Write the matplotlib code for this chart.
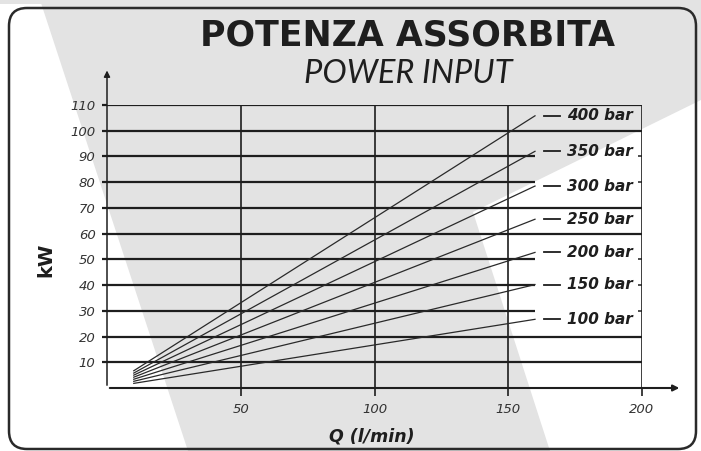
import matplotlib.pyplot as plt
import numpy as np
from matplotlib.patches import Polygon, FancyBboxPatch

# DATA
pressures = ["100 bar", "150 bar", "200 bar", "250 bar", "300 bar", "350 bar", "400 bar"]
q_start = [10, 10, 10, 10, 10, 10, 10]            # l/min
q_end = [160, 160, 160, 160, 160, 160, 160]       # l/min
kw_start = [1.8, 2.6, 3.4, 4.2, 5.0, 5.8, 6.7]    # kW at q_start
kw_end = [26.7, 40.2, 52.7, 65.6, 78.5, 92.0, 105.8]  # kW at q_end

x_ticks = [50, 100, 150, 200]
y_ticks = [10, 20, 30, 40, 50, 60, 70, 80, 90, 100, 110]
full_rows = [10, 20, 60, 70, 100, 110]   # grid rows running to 200
short_rows = [30, 40, 50, 80, 90]        # grid rows stopping at 160

GREY = "#e3e3e3"
INK = "#1e1e1e"

fig = plt.figure(figsize=(7.01, 4.51), dpi=100)
fig.patch.set_facecolor("white")

# BACKGROUND LAYER IN PIXEL UNITS (shading, frame, titles)
bg = fig.add_axes([0, 0, 1, 1])
bg.set_xlim(0, 701)
bg.set_ylim(451, 0)
bg.axis("off")
bg.add_patch(Polygon([(0, 0), (701, 0), (701, 4), (0, 4)], closed=True,
                     facecolor=GREY, edgecolor="none"))
bg.add_patch(Polygon([(40, 0), (701, 0), (701, 100), (473, 212), (550, 451), (188, 451)],
                     closed=True, facecolor=GREY, edgecolor="none"))
bg.add_patch(FancyBboxPatch((9, 8), 687, 441, boxstyle="round,pad=0,rounding_size=18",
                            facecolor="none", edgecolor="#2a2a2a", linewidth=1.8))
bg.text(408, 35, "POTENZA ASSORBITA", ha="center", va="center", fontsize=25,
        fontweight="bold", color=INK)
bg.text(408, 74, "POWER INPUT", ha="center", va="center", fontsize=23.5,
        style="italic", fontweight="normal", family=["Lato", "DejaVu Sans"], color=INK)
bg.text(46, 260, "kW", ha="center", va="center", rotation=90, fontsize=14,
        fontweight="bold", color=INK)
bg.text(372, 437, "Q (l/min)", ha="center", va="center", fontsize=12.5,
        fontweight="bold", style="italic", color=INK)

# MAIN CHART
ax = fig.add_axes([107 / 701, 63 / 451, 535 / 701, 283 / 451])
ax.patch.set_alpha(0)
ax.set_xlim(0, 200)
ax.set_ylim(0, 110)
for s in ax.spines.values():
    s.set_visible(False)

ax.hlines(full_rows, 0, 200, color=INK, linewidth=1.6)
ax.hlines(short_rows, 0, 160, color=INK, linewidth=1.6)
ax.hlines(short_rows, 198.6, 200, color=INK, linewidth=1.1, clip_on=False)
ax.vlines(x_ticks, 0, 110, color=INK, linewidth=1.2)

# axes with arrow heads
ax.annotate("", xy=(215, 0), xytext=(0, 0), annotation_clip=False,
            arrowprops=dict(arrowstyle="-|>", color=INK, lw=1.5, mutation_scale=9))
ax.annotate("", xy=(0, 124.5), xytext=(0, 0), annotation_clip=False,
            arrowprops=dict(arrowstyle="-|>", color=INK, lw=1.1, mutation_scale=9))

ax.set_xticks(x_ticks)
ax.set_yticks(y_ticks)
ax.tick_params(axis="y", length=3.8, width=1.6, color=INK, pad=4.5,
               labelsize=9.5, labelcolor="#333333")
ax.tick_params(axis="x", length=5.5, width=1.2, color=INK, pad=5,
               labelsize=9.5, labelcolor="#333333")
for lab in ax.get_xticklabels() + ax.get_yticklabels():
    lab.set_style("italic")

# pressure lines and their labels
for name, q0, q1, p0, p1 in zip(pressures, q_start, q_end, kw_start, kw_end):
    ax.plot([q0, q1], [p0, p1], color="#2a2a2a", linewidth=0.9, clip_on=False)
    ax.plot([163.5, 169.5], [p1, p1], color=INK, linewidth=1.3, clip_on=False)
    ax.text(172, p1, name, ha="left", va="center", fontsize=11,
            fontweight="bold", style="italic", color=INK, clip_on=False)

fig.savefig("out.png", dpi=100)
